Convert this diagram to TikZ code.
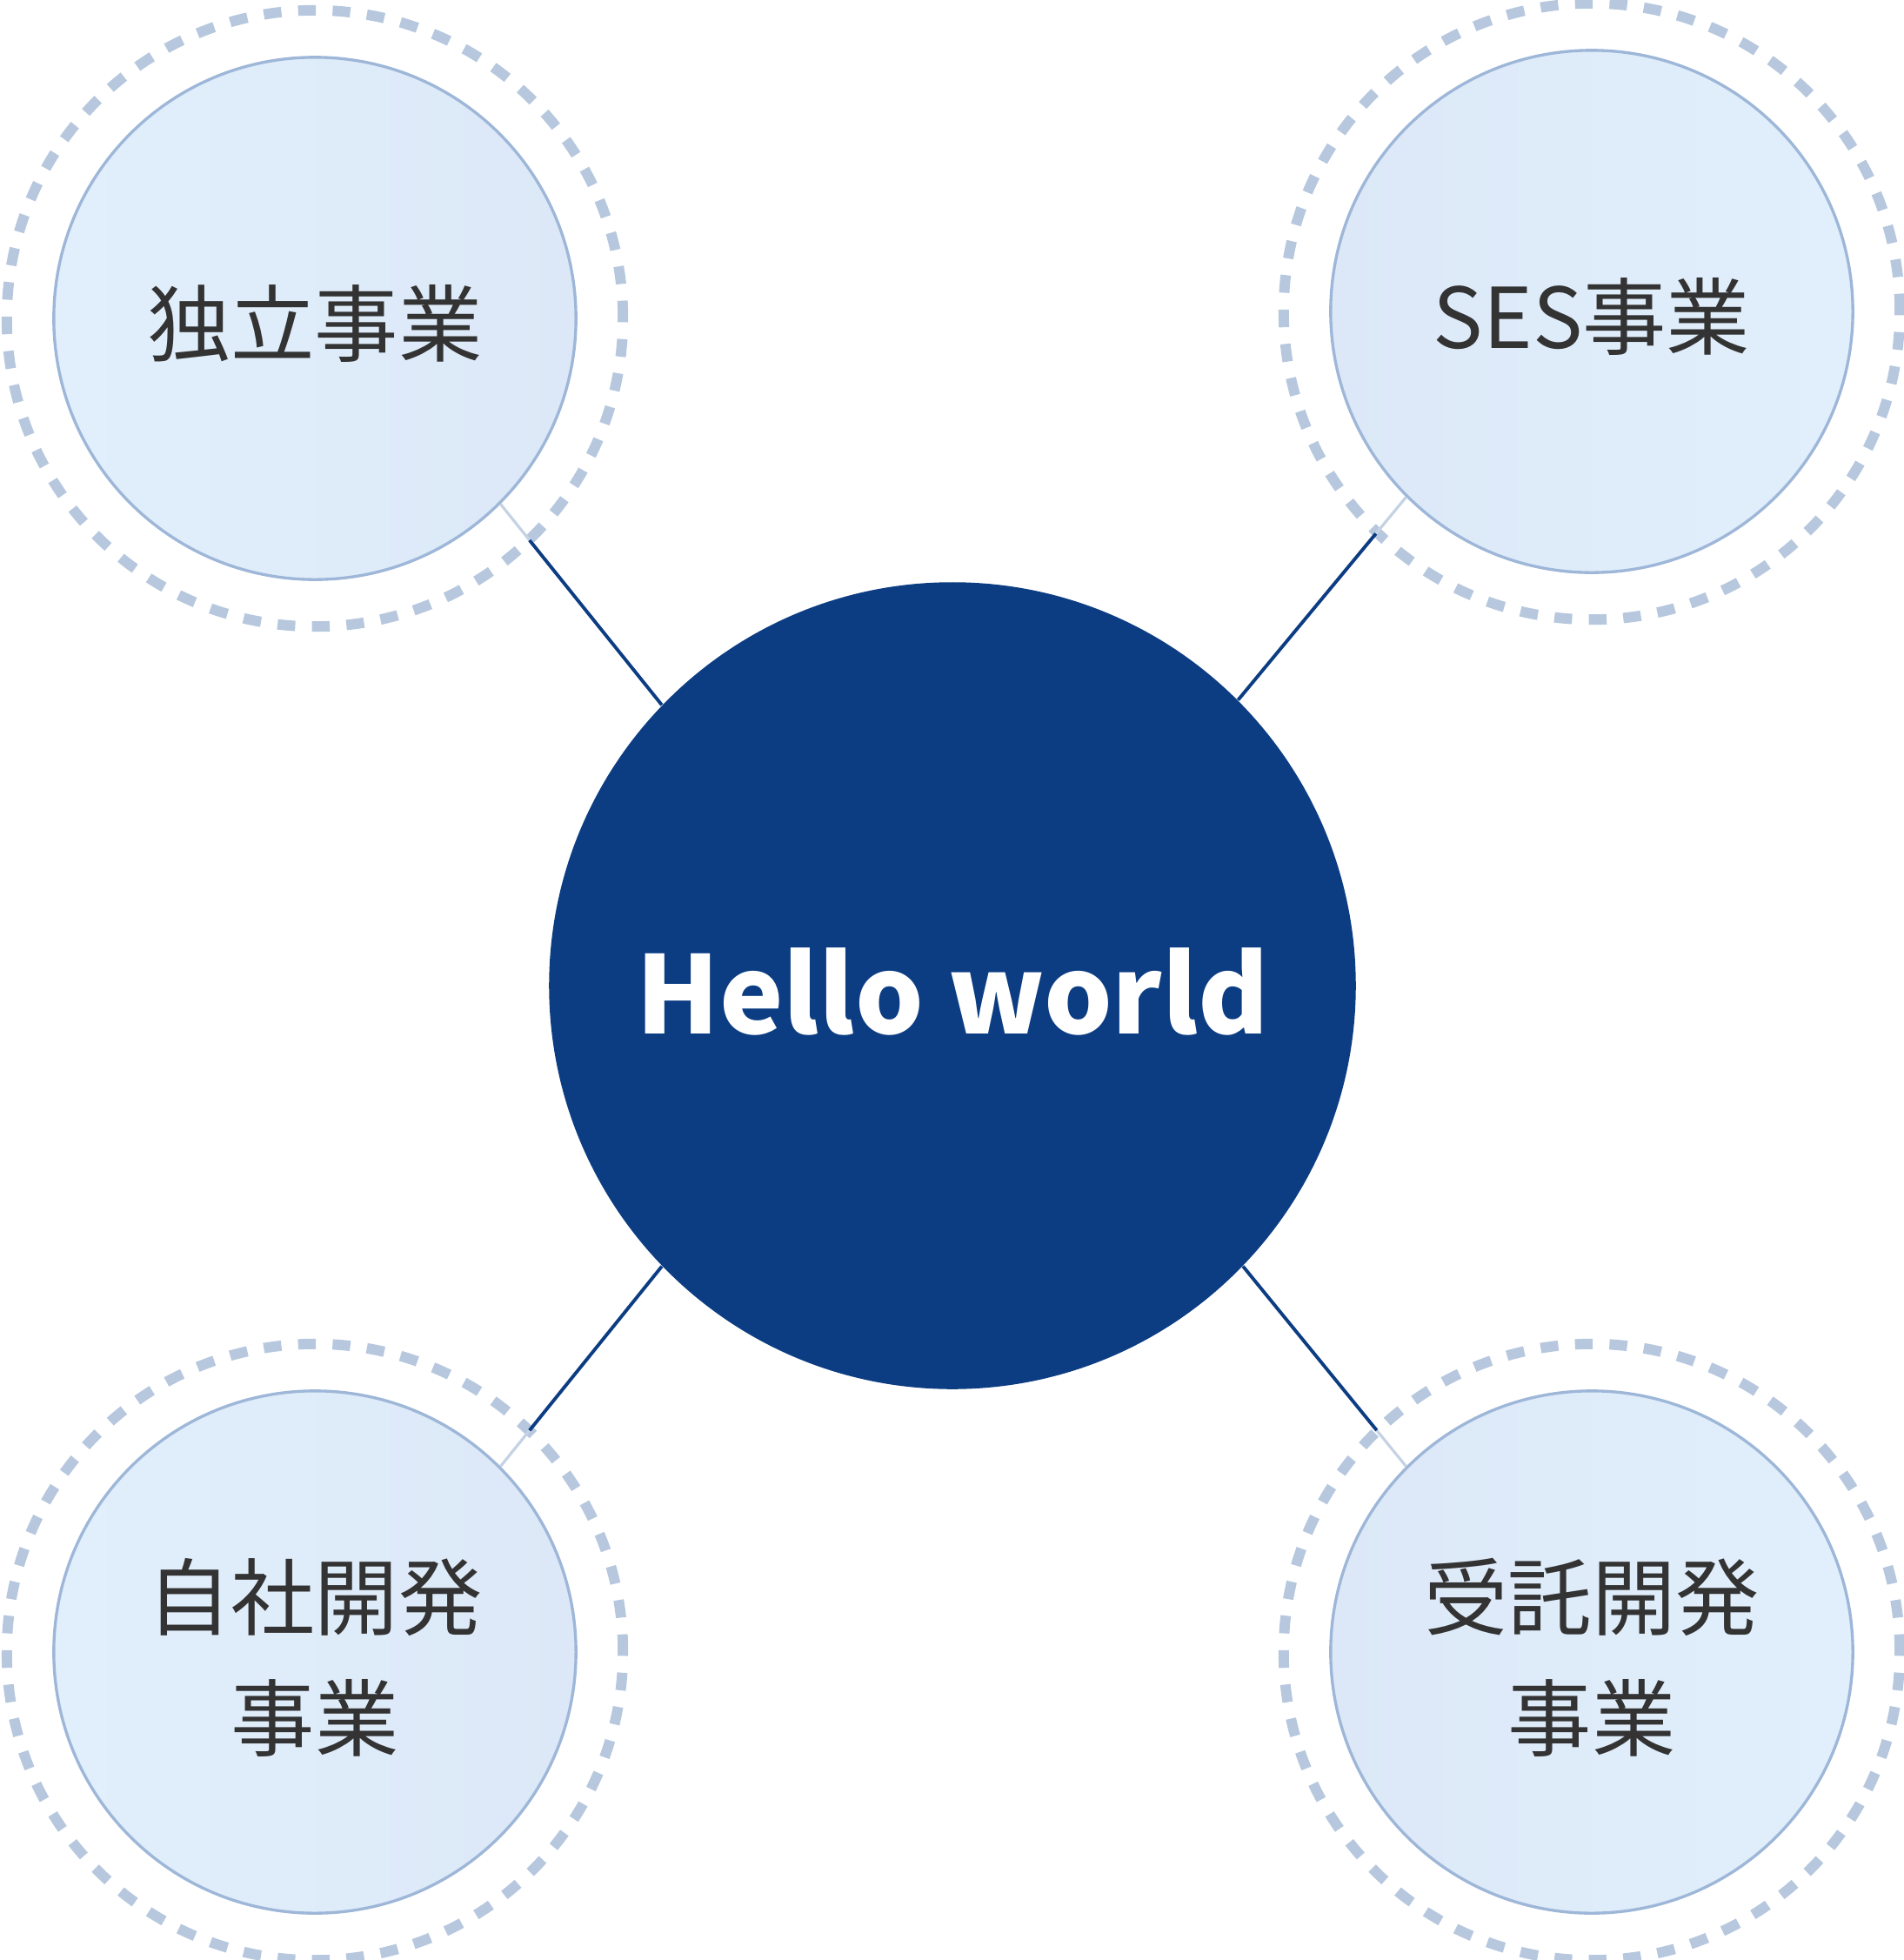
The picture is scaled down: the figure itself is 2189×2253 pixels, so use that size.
\documentclass[tikz,border=0pt]{standalone}
\usepackage{fontspec}
\newfontfamily\jpfont{Noto Sans CJK JP}
\usepackage{tikz}
\usetikzlibrary{calc}
\definecolor{navy}{RGB}{12,61,131}
\definecolor{ringblue}{RGB}{183,200,222}
\definecolor{rimblue}{RGB}{158,183,216}
\definecolor{paleA}{RGB}{225,239,252}
\definecolor{paleB}{RGB}{220,232,247}
\definecolor{faintblue}{RGB}{196,210,228}
\definecolor{inkgray}{RGB}{51,51,51}

\begin{document}
\begin{tikzpicture}[x=0.01cm, y=-0.01cm,
  every node/.style={font=\jpfont},
  hub/.style={circle, fill=navy, minimum size=9.27cm, inner sep=0pt},
  title/.style={text=white, yshift=-0.07cm, font=\jpfont\bfseries\fontsize{35.2pt}{42pt}\selectfont},
  biz/.style={circle, draw=rimblue, line width=0.95pt, minimum size=6cm, inner sep=0pt},
  label/.style={text=inkgray, align=center, yshift=-0.06cm, font=\jpfont\fontsize{27.4pt}{39.5pt}\selectfont},
  lightleft/.style={left color=paleA, right color=paleB},
  lightright/.style={left color=paleB, right color=paleA},
  ring/.style={draw=ringblue, line width=3.4pt, dash pattern=on 5.8pt off 5.48pt},
  link/.style={draw=navy, line width=1.1pt},
  faint/.style={draw=faintblue, line width=0.9pt}]
  \useasboundingbox (0,0) rectangle (2189,2253);
  % centre
  \node[hub] (hub) at (1095,1133) {};
  \node[title] (hub-text) at (hub) {Hello world};
  % four businesses
  \node[biz, lightleft] (indep) at (362,366) {};
  \node[biz, lightright] (ses) at (1830,358) {};
  \node[biz, lightleft] (own) at (362,1899) {};
  \node[biz, lightright] (contract) at (1830,1899) {};
  \node[label] (indep-text) at (indep) {独立事業};
  \node[label] (ses-text) at (ses) {SES事業};
  \node[label] (own-text) at (own) {自社開発\\事業};
  \node[label] (contract-text) at (contract) {受託開発\\事業};
  % dotted rings
  \foreach \b in {indep,ses,own,contract}
    \draw[ring] (\b.center) circle[radius=3.54cm];
  % connectors
  \foreach \b/\from/\to in {indep/-45/136, ses/225/45, own/45/224, contract/135/-44}{
    \coordinate (\b-cut) at ($(\b.\from)!0.18!(hub.\to)$);
    \draw[faint] (\b.\from) -- (\b-cut);
    \draw[link] (\b-cut) -- (hub.\to);
  }
\end{tikzpicture}
\end{document}
